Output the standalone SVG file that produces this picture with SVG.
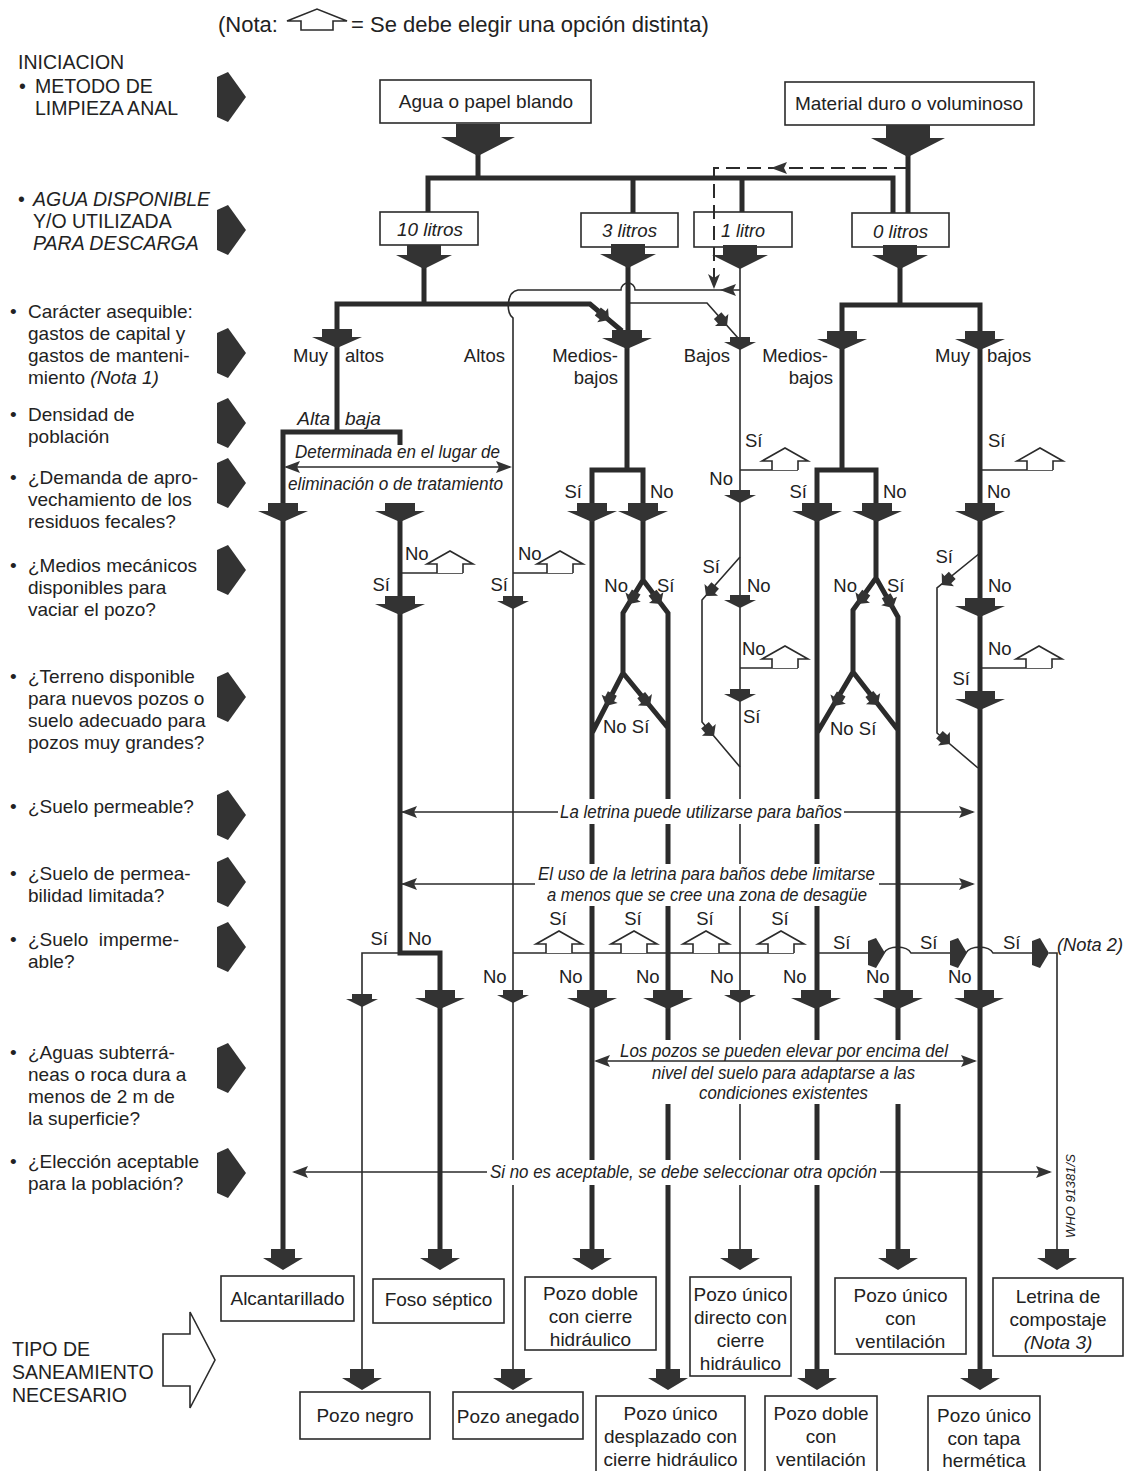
<svg xmlns="http://www.w3.org/2000/svg" width="1131" height="1471" viewBox="0 0 1131 1471">
<defs>
<style>
text{font-family:"Liberation Sans",Arial,sans-serif;fill:#222}
.lt{font-size:19px}
.cap{font-size:19.5px}
.lb{font-size:18.5px}
.it{font-style:italic}
.ic{font-family:"Liberation Sans Narrow","Liberation Sans",Arial,sans-serif;font-style:italic;font-size:19px}
.bt{font-size:19px;text-anchor:middle}
.end{text-anchor:end}
.mid{text-anchor:middle}
.tk{fill:none;stroke:#2b2b2b;stroke-width:5}
.tn{fill:none;stroke:#2b2b2b;stroke-width:1.6}
.ds{fill:none;stroke:#2b2b2b;stroke-width:2;stroke-dasharray:14 7}
.bx{fill:#fff;stroke:#2b2b2b;stroke-width:1.6}
.ar{fill:#333}
.hs{fill:#fff;stroke:#2b2b2b;stroke-width:1.6}
.wb{fill:#fff}
</style>
<path id="aBig" d="M-22,-32H22V-19H37L0,0L-37,-19H-22Z"/>
<path id="aL" d="M-17,-24H17V-14H28L0,0L-28,-14H-17Z"/>
<path id="aM" d="M-15,-19H15V-11H25L0,0L-25,-11H-15Z"/>
<path id="aB" d="M-12,-21H12V-12H20L0,0L-20,-12H-12Z"/>
<path id="aS" d="M-10,-13H10V-8H16L0,0L-16,-8H-10Z"/>
<path id="aD" d="M-5,-14H5V-8H9L0,0L-9,-8H-5Z"/>
<path id="aR" d="M-17,-12L-9,-15L0,0L-9,15L-17,12Z"/>
<path id="hs" d="M-13,0V-9H-23L0,-22L23,-9H13V0"/>
<path id="la" d="M0,5L11,0L29,25L11,50L0,45Z"/>
<path id="hl" d="M0,0L16,-6L13,0L16,6Z"/>
<path id="hr" d="M0,0L-16,-6L-13,0L-16,6Z"/>
</defs>
<rect width="1131" height="1471" fill="#fff"/>

<!-- legend -->
<g id="legend">
<text x="218" y="32" style="font-size:22px">(Nota:</text>
<path class="hs" d="M301,30V21H287L317,9L347,21H333V30Z"/>
<text x="351" y="32" style="font-size:22px">= Se debe elegir una opción distinta)</text>
</g>

<!-- left column questions -->
<g id="q-iniciacion">
<text class="cap" x="18" y="69">INICIACION</text>
<text class="cap" x="19" y="93">•</text>
<text class="cap" x="35" y="93">METODO DE</text>
<text class="cap" x="35" y="115">LIMPIEZA ANAL</text>
<use href="#la" class="ar" x="217" y="72"/>
</g>
<g id="q-agua">
<text class="cap" x="18" y="206">•</text>
<text class="cap it" x="33" y="206">AGUA DISPONIBLE</text>
<text class="cap" x="33" y="228">Y/O UTILIZADA</text>
<text class="cap it" x="33" y="250">PARA DESCARGA</text>
<use href="#la" class="ar" x="217" y="205"/>
</g>
<g id="q-caracter">
<text class="lt" x="10" y="318">•</text>
<text class="lt" x="28" y="318">Carácter asequible:</text>
<text class="lt" x="28" y="340">gastos de capital y</text>
<text class="lt" x="28" y="362">gastos de manteni-</text>
<text class="lt" x="28" y="384">miento <tspan class="it">(Nota 1)</tspan></text>
<use href="#la" class="ar" x="217" y="328"/>
</g>
<g id="q-densidad">
<text class="lt" x="10" y="421">•</text>
<text class="lt" x="28" y="421">Densidad de</text>
<text class="lt" x="28" y="443">población</text>
<use href="#la" class="ar" x="217" y="398"/>
</g>
<g id="q-demanda">
<text class="lt" x="10" y="484">•</text>
<text class="lt" x="28" y="484">¿Demanda de apro-</text>
<text class="lt" x="28" y="506">vechamiento de los</text>
<text class="lt" x="28" y="528">residuos fecales?</text>
<use href="#la" class="ar" x="217" y="458"/>
</g>
<g id="q-medios">
<text class="lt" x="10" y="572">•</text>
<text class="lt" x="28" y="572">¿Medios mecánicos</text>
<text class="lt" x="28" y="594">disponibles para</text>
<text class="lt" x="28" y="616">vaciar el pozo?</text>
<use href="#la" class="ar" x="217" y="545"/>
</g>
<g id="q-terreno">
<text class="lt" x="10" y="683">•</text>
<text class="lt" x="28" y="683">¿Terreno disponible</text>
<text class="lt" x="28" y="705">para nuevos pozos o</text>
<text class="lt" x="28" y="727">suelo adecuado para</text>
<text class="lt" x="28" y="749">pozos muy grandes?</text>
<use href="#la" class="ar" x="217" y="672"/>
</g>
<g id="q-permeable">
<text class="lt" x="10" y="813">•</text>
<text class="lt" x="28" y="813">¿Suelo permeable?</text>
<use href="#la" class="ar" x="217" y="790"/>
</g>
<g id="q-limitada">
<text class="lt" x="10" y="880">•</text>
<text class="lt" x="28" y="880">¿Suelo de permea-</text>
<text class="lt" x="28" y="902">bilidad limitada?</text>
<use href="#la" class="ar" x="217" y="857"/>
</g>
<g id="q-impermeable">
<text class="lt" x="10" y="946">•</text>
<text class="lt" x="28" y="946" xml:space="preserve">¿Suelo  imperme-</text>
<text class="lt" x="28" y="968">able?</text>
<use href="#la" class="ar" x="217" y="922"/>
</g>
<g id="q-aguas">
<text class="lt" x="10" y="1059">•</text>
<text class="lt" x="28" y="1059">¿Aguas subterrá-</text>
<text class="lt" x="28" y="1081">neas o roca dura a</text>
<text class="lt" x="28" y="1103">menos de 2 m de</text>
<text class="lt" x="28" y="1125">la superficie?</text>
<use href="#la" class="ar" x="217" y="1043"/>
</g>
<g id="q-eleccion">
<text class="lt" x="10" y="1168">•</text>
<text class="lt" x="28" y="1168">¿Elección aceptable</text>
<text class="lt" x="28" y="1190">para la población?</text>
<use href="#la" class="ar" x="217" y="1148"/>
</g>
<g id="q-tipo">
<text class="cap" x="12" y="1356">TIPO DE</text>
<text class="cap" x="12" y="1379">SANEAMIENTO</text>
<text class="cap" x="12" y="1402">NECESARIO</text>
<polygon class="bx" points="163,1334 190,1334 190,1312 215,1360 190,1408 190,1386 163,1386"/>
</g>

<!-- top nodes -->
<g id="n-agua"><rect class="bx" x="380" y="80" width="211" height="43"/><text class="bt" x="486" y="108">Agua o papel blando</text></g>
<g id="n-material"><rect class="bx" x="785" y="82" width="249" height="43"/><text class="bt" x="909" y="110">Material duro o voluminoso</text></g>
<g id="n-10"><rect class="bx" x="380" y="212" width="98" height="33"/><text class="ic" x="397" y="236" textLength="66" lengthAdjust="spacingAndGlyphs">10 litros</text></g>
<g id="n-3"><rect class="bx" x="581" y="213" width="97" height="34"/><text class="ic" x="602" y="237" textLength="55" lengthAdjust="spacingAndGlyphs">3 litros</text></g>
<g id="n-1"><rect class="bx" x="694" y="212" width="98" height="35"/><text class="ic" x="721" y="237" textLength="44" lengthAdjust="spacingAndGlyphs">1 litro</text></g>
<g id="n-0"><rect class="bx" x="852" y="213" width="97" height="34"/><text class="ic" x="873" y="238" textLength="55" lengthAdjust="spacingAndGlyphs">0 litros</text></g>

<!-- bottom nodes -->
<g id="n-alcantarillado"><rect class="bx" x="221" y="1276" width="133" height="45"/><text class="bt" x="287.5" y="1305">Alcantarillado</text></g>
<g id="n-foso"><rect class="bx" x="373" y="1279" width="131" height="44"/><text class="bt" x="438.5" y="1306">Foso séptico</text></g>
<g id="n-pozo-doble-ch"><rect class="bx" x="525" y="1277" width="131" height="73"/><text class="bt" x="590.5" y="1300">Pozo doble</text><text class="bt" x="590.5" y="1323">con cierre</text><text class="bt" x="590.5" y="1346">hidráulico</text></g>
<g id="n-pozo-unico-directo"><rect class="bx" x="690" y="1277" width="101" height="99"/><text class="bt" x="740.5" y="1301">Pozo único</text><text class="bt" x="740.5" y="1324">directo con</text><text class="bt" x="740.5" y="1347">cierre</text><text class="bt" x="740.5" y="1370">hidráulico</text></g>
<g id="n-pozo-unico-vent"><rect class="bx" x="835" y="1278" width="131" height="76"/><text class="bt" x="900.5" y="1302">Pozo único</text><text class="bt" x="900.5" y="1325">con</text><text class="bt" x="900.5" y="1348">ventilación</text></g>
<g id="n-letrina"><rect class="bx" x="993" y="1278" width="130" height="78"/><text class="bt" x="1058" y="1303">Letrina de</text><text class="bt" x="1058" y="1326">compostaje</text><text class="bt it" x="1058" y="1349">(Nota 3)</text></g>
<g id="n-pozo-negro"><rect class="bx" x="300" y="1392" width="130" height="47"/><text class="bt" x="365" y="1422">Pozo negro</text></g>
<g id="n-pozo-anegado"><rect class="bx" x="453" y="1392" width="130" height="47"/><text class="bt" x="518" y="1423">Pozo anegado</text></g>
<g id="n-pozo-desplazado"><rect class="bx" x="596" y="1396" width="149" height="80"/><text class="bt" x="670.5" y="1420">Pozo único</text><text class="bt" x="670.5" y="1443">desplazado con</text><text class="bt" x="670.5" y="1466">cierre hidráulico</text></g>
<g id="n-pozo-doble-vent"><rect class="bx" x="765" y="1396" width="112" height="80"/><text class="bt" x="821" y="1420">Pozo doble</text><text class="bt" x="821" y="1443">con</text><text class="bt" x="821" y="1466">ventilación</text></g>
<g id="n-pozo-tapa"><rect class="bx" x="928" y="1396" width="112" height="80"/><text class="bt" x="984" y="1422">Pozo único</text><text class="bt" x="984" y="1445">con tapa</text><text class="bt" x="984" y="1467">hermética</text></g>

<!-- connectors -->
<g id="connectors">
<path class="tk" d="M478,150V178M428,212V178H893V213M633,178V213M742,178V212M908,150V213"/>
<path class="tk" d="M424,265V304M337,329V304H590L622,331M628,264V331M900,265V305M842,331V305H980V331"/>
<path class="tk" d="M337,345V432M283,1250V432H400V445"/>
<path class="tk" d="M400,518V953H440V1250"/>
<path class="tk" d="M627,345V470M592,1250V470H643V580L623,613V673L592,733M643,580L668,613V1370M623,673L668,728"/>
<path class="tk" d="M842,345V470M817,1370V470H876V578L853,610V672L817,733M876,578L898,617V1250M853,672L898,730"/>
<path class="tk" d="M980,345V1370"/>
<path class="tn" d="M740,290H635A7,7 0 0 0 621,290H518C506,292 506,314 513,318V1370"/>
<path class="tn" d="M628,303H707L738,338"/>
<path class="tn" d="M740,265V1250"/>
<path class="ds" d="M908,168H714V281"/>
<path class="tn" d="M740,470H798M740,557L702,600V722L740,767M740,668H798"/>
<path class="tn" d="M980,470H1053M980,553L937,588V733L978,768M980,668H1052"/>
<path class="tn" d="M400,573H463M513,573H573"/>
<path class="tn" d="M400,953H362V1370M513,953H794"/>
<path class="tn" d="M816,953H870M884,953A14,8 0 0 1 911,953H952M966,953A14,8 0 0 1 993,953H1032M1049,953H1057V1250"/>
<use href="#hl" class="ar" x="720" y="290"/>
<use href="#hl" class="ar" x="771" y="168"/>
<path class="ar" d="M714,289L708,274L714,278L720,274Z"/>
<use href="#aBig" class="ar" x="478" y="156"/>
<use href="#aBig" class="ar" x="908" y="157"/>
<use href="#aL" class="ar" x="424" y="269"/>
<use href="#aL" class="ar" x="628" y="268"/>
<use href="#aL" class="ar" x="740" y="269"/>
<use href="#aL" class="ar" x="900" y="269"/>
<use href="#aM" class="ar" x="337" y="348"/>
<use href="#aM" class="ar" x="627" y="349"/>
<use href="#aM" class="ar" x="842" y="350"/>
<use href="#aM" class="ar" x="980" y="350"/>
<use href="#aS" class="ar" x="740" y="350"/>
<use href="#aM" class="ar" x="283" y="522"/>
<use href="#aM" class="ar" x="400" y="522"/>
<use href="#aM" class="ar" x="592" y="522"/>
<use href="#aM" class="ar" x="643" y="522"/>
<use href="#aM" class="ar" x="817" y="522"/>
<use href="#aM" class="ar" x="877" y="522"/>
<use href="#aM" class="ar" x="980" y="522"/>
<use href="#aS" class="ar" x="740" y="503"/>
<use href="#aM" class="ar" x="400" y="615"/>
<use href="#aS" class="ar" x="513" y="609"/>
<use href="#aS" class="ar" x="740" y="608"/>
<use href="#aM" class="ar" x="980" y="617"/>
<use href="#aS" class="ar" x="740" y="702"/>
<use href="#aM" class="ar" x="980" y="710"/>
<use href="#aS" class="ar" x="362" y="1007"/>
<use href="#aM" class="ar" x="440" y="1009"/>
<use href="#aS" class="ar" x="513" y="1003"/>
<use href="#aM" class="ar" x="592" y="1009"/>
<use href="#aM" class="ar" x="668" y="1009"/>
<use href="#aS" class="ar" x="740" y="1003"/>
<use href="#aM" class="ar" x="816" y="1009"/>
<use href="#aM" class="ar" x="898" y="1009"/>
<use href="#aM" class="ar" x="979" y="1009"/>
<use href="#aB" class="ar" x="283" y="1270"/>
<use href="#aB" class="ar" x="440" y="1270"/>
<use href="#aB" class="ar" x="592" y="1270"/>
<use href="#aB" class="ar" x="740" y="1270"/>
<use href="#aB" class="ar" x="898" y="1270"/>
<use href="#aB" class="ar" x="1057" y="1270"/>
<use href="#aB" class="ar" x="362" y="1390"/>
<use href="#aB" class="ar" x="513" y="1390"/>
<use href="#aB" class="ar" x="668" y="1390"/>
<use href="#aB" class="ar" x="817" y="1390"/>
<use href="#aB" class="ar" x="980" y="1390"/>
<use href="#aR" class="ar" x="885" y="953"/>
<use href="#aR" class="ar" x="967" y="953"/>
<use href="#aR" class="ar" x="1049" y="953"/>
<use href="#aD" class="ar" transform="translate(609,320) rotate(-53)"/>
<use href="#aD" class="ar" transform="translate(727,326) rotate(-42)"/>
<use href="#aD" class="ar" transform="translate(629,604) rotate(31)"/>
<use href="#aD" class="ar" transform="translate(661,604) rotate(-37)"/>
<use href="#aD" class="ar" transform="translate(606,706) rotate(27)"/>
<use href="#aD" class="ar" transform="translate(650,706) rotate(-39)"/>
<use href="#aD" class="ar" transform="translate(858,604) rotate(36)"/>
<use href="#aD" class="ar" transform="translate(893,608) rotate(-29)"/>
<use href="#aD" class="ar" transform="translate(834,706) rotate(31)"/>
<use href="#aD" class="ar" transform="translate(878,705) rotate(-38)"/>
<use href="#aD" class="ar" transform="translate(706,596) rotate(41)"/>
<use href="#aD" class="ar" transform="translate(714,736) rotate(-40)"/>
<use href="#aD" class="ar" transform="translate(942,585) rotate(47)"/>
<use href="#aD" class="ar" transform="translate(950,744) rotate(-49)"/>
<use href="#hs" class="hs" x="450" y="573"/>
<use href="#hs" class="hs" x="560" y="573"/>
<use href="#hs" class="hs" x="785" y="470"/>
<use href="#hs" class="hs" x="1040" y="470"/>
<use href="#hs" class="hs" x="785" y="668"/>
<use href="#hs" class="hs" x="1039" y="668"/>
<use href="#hs" class="hs" x="559" y="953"/>
<use href="#hs" class="hs" x="634" y="953"/>
<use href="#hs" class="hs" x="706" y="953"/>
<use href="#hs" class="hs" x="781" y="953"/>

<rect class="wb" x="556" y="799" width="290" height="25"/>
<rect class="wb" x="534" y="864" width="345" height="42"/>
<rect class="wb" x="612" y="1040" width="343" height="64"/>
<rect class="wb" x="487" y="1160" width="393" height="25"/>
<path class="tn" d="M286,467H510M402,812H558M844,812H973M402,884H535M879,884H973M596,1061H975M294,1172H487M880,1172H1050"/>
<use href="#hl" class="ar" x="284" y="467"/>
<use href="#hr" class="ar" x="512" y="467"/>
<use href="#hl" class="ar" x="401" y="812"/>
<use href="#hr" class="ar" x="975" y="812"/>
<use href="#hl" class="ar" x="401" y="884"/>
<use href="#hr" class="ar" x="975" y="884"/>
<use href="#hl" class="ar" x="594" y="1061"/>
<use href="#hr" class="ar" x="977" y="1061"/>
<use href="#hl" class="ar" x="292" y="1172"/>
<use href="#hr" class="ar" x="1052" y="1172"/>
<text class="ic" x="295" y="458" textLength="205" lengthAdjust="spacingAndGlyphs">Determinada en el lugar de</text>
<text class="ic" x="288" y="490" textLength="215" lengthAdjust="spacingAndGlyphs">eliminación o de tratamiento</text>
<text class="ic" x="560" y="818" textLength="282" lengthAdjust="spacingAndGlyphs">La letrina puede utilizarse para baños</text>
<text class="ic" x="538" y="880" textLength="337" lengthAdjust="spacingAndGlyphs">El uso de la letrina para baños debe limitarse</text>
<text class="ic" x="547" y="901" textLength="320" lengthAdjust="spacingAndGlyphs">a menos que se cree una zona de desagüe</text>
<text class="ic" x="620" y="1057" textLength="328" lengthAdjust="spacingAndGlyphs">Los pozos se pueden elevar por encima del</text>
<text class="ic" x="652" y="1079" textLength="263" lengthAdjust="spacingAndGlyphs">nivel del suelo para adaptarse a las</text>
<text class="ic" x="699" y="1099" textLength="169" lengthAdjust="spacingAndGlyphs">condiciones existentes</text>
<text class="ic" x="490" y="1178" textLength="387" lengthAdjust="spacingAndGlyphs">Si no es aceptable, se debe seleccionar otra opción</text>
<text class="ic" x="1057" y="951" textLength="66" lengthAdjust="spacingAndGlyphs">(Nota 2)</text>
<text class="it" style="font-size:13px" transform="translate(1075,1238) rotate(-90)">WHO 91381/S</text>

<text class="lb end" x="328" y="362">Muy</text>
<text class="lb" x="345" y="362">altos</text>
<text class="lb end" x="505" y="362">Altos</text>
<text class="lb end" x="618" y="362">Medios-</text>
<text class="lb end" x="618" y="384">bajos</text>
<text class="lb end" x="730" y="362">Bajos</text>
<text class="lb end" x="828" y="362">Medios-</text>
<text class="lb end" x="833" y="384">bajos</text>
<text class="lb end" x="970" y="362">Muy</text>
<text class="lb" x="987" y="362">bajos</text>
<text class="ic end" x="330" y="425">Alta</text>
<text class="ic" x="345" y="425">baja</text>

<text class="lb end" x="582" y="498">Sí</text>
<text class="lb" x="650" y="498">No</text>
<text class="lb" x="745" y="447">Sí</text>
<text class="lb end" x="733" y="485">No</text>
<text class="lb end" x="807" y="498">Sí</text>
<text class="lb" x="883" y="498">No</text>
<text class="lb" x="988" y="447">Sí</text>
<text class="lb" x="987" y="498">No</text>

<text class="lb" x="405" y="560">No</text>
<text class="lb end" x="390" y="591">Sí</text>
<text class="lb" x="518" y="560">No</text>
<text class="lb end" x="508" y="591">Sí</text>
<text class="lb end" x="628" y="592">No</text>
<text class="lb" x="657" y="592">Sí</text>
<text class="lb end" x="720" y="573">Sí</text>
<text class="lb" x="747" y="592">No</text>
<text class="lb end" x="857" y="592">No</text>
<text class="lb" x="887" y="592">Sí</text>
<text class="lb end" x="953" y="563">Sí</text>
<text class="lb" x="988" y="592">No</text>

<text class="lb" x="603" y="733">No Sí</text>
<text class="lb" x="742" y="655">No</text>
<text class="lb" x="743" y="723">Sí</text>
<text class="lb" x="830" y="735">No Sí</text>
<text class="lb" x="988" y="655">No</text>
<text class="lb end" x="970" y="685">Sí</text>

<text class="lb end" x="388" y="945">Sí</text>
<text class="lb" x="408" y="945">No</text>
<text class="lb mid" x="558" y="925">Sí</text>
<text class="lb mid" x="633" y="925">Sí</text>
<text class="lb mid" x="705" y="925">Sí</text>
<text class="lb mid" x="780" y="925">Sí</text>
<text class="lb" x="833" y="949">Sí</text>
<text class="lb" x="920" y="949">Sí</text>
<text class="lb" x="1003" y="949">Sí</text>
<text class="lb" x="483" y="983">No</text>
<text class="lb" x="559" y="983">No</text>
<text class="lb" x="636" y="983">No</text>
<text class="lb" x="710" y="983">No</text>
<text class="lb" x="783" y="983">No</text>
<text class="lb" x="866" y="983">No</text>
<text class="lb" x="948" y="983">No</text>
</g>
</svg>
